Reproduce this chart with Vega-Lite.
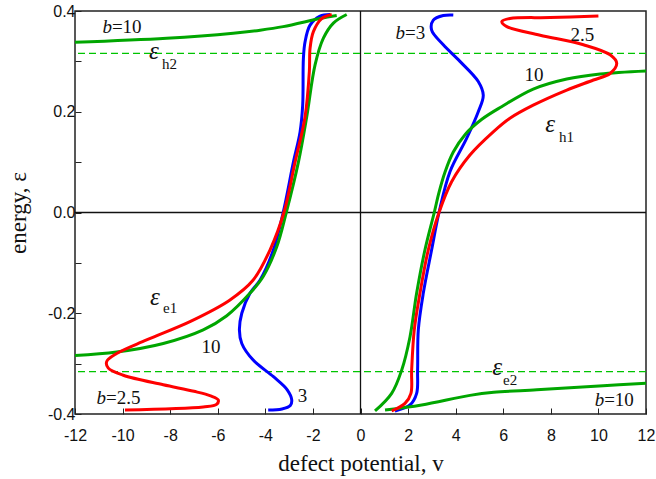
{
  "$schema": "https://vega.github.io/schema/vega-lite/v6.json",
  "width": 571,
  "height": 403,
  "autosize": {"type": "none"},
  "padding": {"left": 75, "top": 11, "right": 10, "bottom": 65},
  "background": "white",
  "config": {
    "view": {"stroke": "#222", "strokeWidth": 1.5},
    "axis": {
      "domain": false, "grid": false, "tickColor": "#222", "tickWidth": 1, "labelFlush": false, "labelOverlap": false,
      "labelFont": "Liberation Sans", "labelFontSize": 16, "labelColor": "#111",
      "titleFont": "Liberation Serif", "titleFontSize": 23, "titleFontWeight": "normal", "titleColor": "#111"
    }
  },
  "datasets": {
    "curves": [
      {"b":"3","seg":"BL","i":1,"v":-3.88,"e":-0.392},{"b":"3","seg":"BL","i":2,"v":-3.30,"e":-0.390},{"b":"3","seg":"BL","i":3,"v":-2.95,"e":-0.383},{"b":"3","seg":"BL","i":4,"v":-2.89,"e":-0.372},{"b":"3","seg":"BL","i":5,"v":-3.08,"e":-0.352},{"b":"3","seg":"BL","i":6,"v":-3.66,"e":-0.326},{"b":"3","seg":"BL","i":7,"v":-4.51,"e":-0.293},{"b":"3","seg":"BL","i":8,"v":-4.99,"e":-0.26},{"b":"3","seg":"BL","i":9,"v":-5.09,"e":-0.233},{"b":"3","seg":"BL","i":10,"v":-4.99,"e":-0.2},{"b":"3","seg":"BL","i":11,"v":-4.64,"e":-0.16},{"b":"3","seg":"BL","i":12,"v":-4.22,"e":-0.134},{"b":"3","seg":"BL","i":13,"v":-3.66,"e":-0.074},{"b":"3","seg":"BL","i":14,"v":-3.25,"e":0.0},{"b":"3","seg":"BL","i":15,"v":-2.82,"e":0.10},{"b":"3","seg":"BL","i":16,"v":-2.54,"e":0.16},{"b":"3","seg":"BL","i":17,"v":-2.43,"e":0.213},{"b":"3","seg":"BL","i":18,"v":-2.40,"e":0.306},{"b":"3","seg":"BL","i":19,"v":-2.33,"e":0.339},{"b":"3","seg":"BL","i":20,"v":-2.12,"e":0.372},{"b":"3","seg":"BL","i":21,"v":-1.70,"e":0.39},{"b":"3","seg":"BL","i":22,"v":-1.28,"e":0.393},
      {"b":"3","seg":"BR","i":1,"v":1.45,"e":-0.394},{"b":"3","seg":"BR","i":2,"v":2.08,"e":-0.382},{"b":"3","seg":"BR","i":3,"v":2.36,"e":-0.359},{"b":"3","seg":"BR","i":4,"v":2.40,"e":-0.313},{"b":"3","seg":"BR","i":5,"v":2.43,"e":-0.233},{"b":"3","seg":"BR","i":6,"v":2.64,"e":-0.16},{"b":"3","seg":"BR","i":7,"v":2.99,"e":-0.074},{"b":"3","seg":"BR","i":8,"v":3.3,"e":0.0},{"b":"3","seg":"BR","i":9,"v":3.76,"e":0.081},{"b":"3","seg":"BR","i":10,"v":4.46,"e":0.147},{"b":"3","seg":"BR","i":11,"v":4.95,"e":0.2},{"b":"3","seg":"BR","i":12,"v":5.16,"e":0.233},{"b":"3","seg":"BR","i":13,"v":4.95,"e":0.26},{"b":"3","seg":"BR","i":14,"v":4.18,"e":0.3},{"b":"3","seg":"BR","i":15,"v":3.48,"e":0.333},{"b":"3","seg":"BR","i":16,"v":2.99,"e":0.362},{"b":"3","seg":"BR","i":17,"v":3.06,"e":0.382},{"b":"3","seg":"BR","i":18,"v":3.48,"e":0.391},{"b":"3","seg":"BR","i":19,"v":3.9,"e":0.392},
      {"b":"10","seg":"GL","i":1,"v":-12,"e":-0.284},{"b":"10","seg":"GL","i":2,"v":-10.25,"e":-0.277},{"b":"10","seg":"GL","i":3,"v":-8.29,"e":-0.26},{"b":"10","seg":"GL","i":4,"v":-6.61,"e":-0.233},{"b":"10","seg":"GL","i":5,"v":-5.62,"e":-0.205},{"b":"10","seg":"GL","i":6,"v":-4.64,"e":-0.16},{"b":"10","seg":"GL","i":7,"v":-4.09,"e":-0.127},{"b":"10","seg":"GL","i":8,"v":-3.52,"e":-0.068},{"b":"10","seg":"GL","i":9,"v":-3.12,"e":0.0},{"b":"10","seg":"GL","i":10,"v":-2.61,"e":0.10},{"b":"10","seg":"GL","i":11,"v":-2.26,"e":0.19},{"b":"10","seg":"GL","i":12,"v":-1.91,"e":0.293},{"b":"10","seg":"GL","i":13,"v":-1.56,"e":0.346},{"b":"10","seg":"GL","i":14,"v":-1.14,"e":0.376},{"b":"10","seg":"GL","i":15,"v":-0.58,"e":0.393},
      {"b":"10","seg":"GT","i":1,"v":-12,"e":0.338},{"b":"10","seg":"GT","i":2,"v":-8.15,"e":0.346},{"b":"10","seg":"GT","i":3,"v":-5.35,"e":0.356},{"b":"10","seg":"GT","i":4,"v":-4.22,"e":0.362},{"b":"10","seg":"GT","i":5,"v":-3.25,"e":0.369},{"b":"10","seg":"GT","i":6,"v":-1.70,"e":0.385},{"b":"10","seg":"GT","i":7,"v":-1.0,"e":0.391},
      {"b":"10","seg":"GR","i":1,"v":0.61,"e":-0.394},{"b":"10","seg":"GR","i":2,"v":1.31,"e":-0.359},{"b":"10","seg":"GR","i":3,"v":1.73,"e":-0.313},{"b":"10","seg":"GR","i":4,"v":2.08,"e":-0.247},{"b":"10","seg":"GR","i":5,"v":2.36,"e":-0.16},{"b":"10","seg":"GR","i":6,"v":2.71,"e":-0.074},{"b":"10","seg":"GR","i":7,"v":3.1,"e":0.0},{"b":"10","seg":"GR","i":8,"v":3.3,"e":0.04},{"b":"10","seg":"GR","i":9,"v":3.55,"e":0.08},{"b":"10","seg":"GR","i":10,"v":3.9,"e":0.12},{"b":"10","seg":"GR","i":11,"v":4.4,"e":0.155},{"b":"10","seg":"GR","i":12,"v":5.1,"e":0.185},{"b":"10","seg":"GR","i":13,"v":5.93,"e":0.21},{"b":"10","seg":"GR","i":14,"v":7.26,"e":0.245},{"b":"10","seg":"GR","i":15,"v":8.67,"e":0.265},{"b":"10","seg":"GR","i":16,"v":10.07,"e":0.275},{"b":"10","seg":"GR","i":17,"v":12,"e":0.281},
      {"b":"10","seg":"GB","i":1,"v":1.03,"e":-0.392},{"b":"10","seg":"GB","i":2,"v":2.57,"e":-0.382},{"b":"10","seg":"GB","i":3,"v":4.6,"e":-0.363},{"b":"10","seg":"GB","i":4,"v":5.6,"e":-0.357},{"b":"10","seg":"GB","i":5,"v":7.41,"e":-0.352},{"b":"10","seg":"GB","i":6,"v":10.2,"e":-0.344},{"b":"10","seg":"GB","i":7,"v":12,"e":-0.339},
      {"b":"2.5","seg":"RL","i":1,"v":-9.9,"e":-0.392},{"b":"2.5","seg":"RL","i":2,"v":-6.61,"e":-0.386},{"b":"2.5","seg":"RL","i":3,"v":-6.05,"e":-0.381},{"b":"2.5","seg":"RL","i":4,"v":-5.98,"e":-0.372},{"b":"2.5","seg":"RL","i":5,"v":-6.3,"e":-0.364},{"b":"2.5","seg":"RL","i":6,"v":-7.0,"e":-0.355},{"b":"2.5","seg":"RL","i":7,"v":-8.29,"e":-0.342},{"b":"2.5","seg":"RL","i":8,"v":-9.97,"e":-0.323},{"b":"2.5","seg":"RL","i":9,"v":-10.6,"e":-0.309},{"b":"2.5","seg":"RL","i":10,"v":-10.67,"e":-0.296},{"b":"2.5","seg":"RL","i":11,"v":-10.25,"e":-0.28},{"b":"2.5","seg":"RL","i":12,"v":-8.99,"e":-0.253},{"b":"2.5","seg":"RL","i":13,"v":-7.1,"e":-0.215},{"b":"2.5","seg":"RL","i":14,"v":-5.5,"e":-0.174},{"b":"2.5","seg":"RL","i":15,"v":-4.51,"e":-0.134},{"b":"2.5","seg":"RL","i":16,"v":-3.80,"e":-0.074},{"b":"2.5","seg":"RL","i":17,"v":-3.22,"e":0.0},{"b":"2.5","seg":"RL","i":18,"v":-2.75,"e":0.10},{"b":"2.5","seg":"RL","i":19,"v":-2.33,"e":0.19},{"b":"2.5","seg":"RL","i":20,"v":-2.15,"e":0.28},{"b":"2.5","seg":"RL","i":21,"v":-2.12,"e":0.326},{"b":"2.5","seg":"RL","i":22,"v":-1.98,"e":0.359},{"b":"2.5","seg":"RL","i":23,"v":-1.63,"e":0.385},{"b":"2.5","seg":"RL","i":24,"v":-1.21,"e":0.393},
      {"b":"2.5","seg":"RR","i":1,"v":1.31,"e":-0.394},{"b":"2.5","seg":"RR","i":2,"v":1.87,"e":-0.379},{"b":"2.5","seg":"RR","i":3,"v":2.12,"e":-0.359},{"b":"2.5","seg":"RR","i":4,"v":2.15,"e":-0.313},{"b":"2.5","seg":"RR","i":5,"v":2.26,"e":-0.233},{"b":"2.5","seg":"RR","i":6,"v":2.50,"e":-0.16},{"b":"2.5","seg":"RR","i":7,"v":2.85,"e":-0.074},{"b":"2.5","seg":"RR","i":8,"v":3.3,"e":0.0},{"b":"2.5","seg":"RR","i":9,"v":3.83,"e":0.061},{"b":"2.5","seg":"RR","i":10,"v":4.6,"e":0.114},{"b":"2.5","seg":"RR","i":11,"v":5.58,"e":0.16},{"b":"2.5","seg":"RR","i":12,"v":6.28,"e":0.187},{"b":"2.5","seg":"RR","i":13,"v":7.26,"e":0.213},{"b":"2.5","seg":"RR","i":14,"v":8.67,"e":0.243},{"b":"2.5","seg":"RR","i":15,"v":9.79,"e":0.263},{"b":"2.5","seg":"RR","i":16,"v":10.49,"e":0.276},{"b":"2.5","seg":"RR","i":17,"v":10.77,"e":0.296},{"b":"2.5","seg":"RR","i":18,"v":10.49,"e":0.313},{"b":"2.5","seg":"RR","i":19,"v":9.37,"e":0.333},{"b":"2.5","seg":"RR","i":20,"v":7.55,"e":0.352},{"b":"2.5","seg":"RR","i":21,"v":6.15,"e":0.369},{"b":"2.5","seg":"RR","i":22,"v":5.94,"e":0.379},{"b":"2.5","seg":"RR","i":23,"v":6.28,"e":0.385},{"b":"2.5","seg":"RR","i":24,"v":7.97,"e":0.387},{"b":"2.5","seg":"RR","i":25,"v":10.0,"e":0.39}
    ],
    "labels": [
      {"kind":"eps","t":"ε","v":-8.68,"e":0.304},
      {"kind":"eps","t":"ε","v":7.97,"e":0.160},
      {"kind":"eps","t":"ε","v":-8.64,"e":-0.1836},
      {"kind":"eps","t":"ε","v":5.74,"e":-0.3226},
      {"kind":"sub","t":"h2","v":-8.34,"e":0.284},
      {"kind":"sub","t":"h1","v":8.34,"e":0.1406},
      {"kind":"sub","t":"e1","v":-8.3,"e":-0.199},
      {"kind":"sub","t":"e2","v":5.99,"e":-0.342},
      {"kind":"bi","t":"b","v":-10.45,"e":0.3557},
      {"kind":"bi","t":"b","v":1.87,"e":0.344},
      {"kind":"bi","t":"b","v":-10.70,"e":-0.381},
      {"kind":"bi","t":"b","v":10.24,"e":-0.3835},
      {"kind":"eq","t":"=10","v":-10.45,"e":0.3557},
      {"kind":"eq","t":"=3","v":1.87,"e":0.344},
      {"kind":"eq","t":"=2.5","v":-10.70,"e":-0.381},
      {"kind":"eq","t":"=10","v":10.24,"e":-0.3835},
      {"kind":"num","t":"2.5","v":9.33,"e":0.341},
      {"kind":"num","t":"10","v":7.29,"e":0.261},
      {"kind":"num","t":"10","v":-6.28,"e":-0.278},
      {"kind":"num","t":"3","v":-2.44,"e":-0.3756}
    ],
    "hlines": [{"e":0.316},{"e":-0.316}],
    "zero": [{"z":0}]
  },
  "layer": [
    {
      "data": {"name": "zero"},
      "mark": {"type": "rule", "color": "#111", "strokeWidth": 1.3},
      "encoding": {
        "x": {"field": "z", "type": "quantitative", "scale": {"domain": [-12, 12], "nice": false, "zero": false},
          "axis": {"values": [-12,-10,-8,-6,-4,-2,0,2,4,6,8,10,12], "tickSize": -6, "labelPadding": 19,
            "labelExpr": "replace(format(datum.value, 'd'), '−', '-')",
            "title": "defect potential, v", "titleY": 56, "titleBaseline": "alphabetic"}}
      }
    },
    {
      "data": {"name": "zero"},
      "mark": {"type": "rule", "color": "#111", "strokeWidth": 1.3},
      "encoding": {
        "y": {"field": "z", "type": "quantitative", "scale": {"domain": [-0.4, 0.4], "nice": false, "zero": false},
          "axis": {"values": [-0.4,-0.3,-0.2,-0.1,0,0.1,0.2,0.3,0.4], "tickSize": -6, "labelPadding": 6,
            "labelExpr": "round(datum.value*10) % 2 != 0 ? '' : replace(format(datum.value, '.1f'), '−', '-')",
            "title": "energy, ε", "titleX": -50, "titleY": 201.5, "titleAngle": -90, "titleAlign": "center", "titleBaseline": "alphabetic"}}
      }
    },
    {
      "data": {"name": "hlines"},
      "mark": {"type": "rule", "color": "#00c400", "strokeWidth": 1.2, "strokeDash": [7, 4]},
      "encoding": {"y": {"field": "e", "type": "quantitative"}}
    },
    {
      "data": {"name": "curves"},
      "mark": {"type": "line", "strokeWidth": 3, "interpolate": "catmull-rom", "clip": true},
      "encoding": {
        "x": {"field": "v", "type": "quantitative"},
        "y": {"field": "e", "type": "quantitative"},
        "color": {"field": "b", "type": "nominal", "scale": {"domain": ["3", "10", "2.5"], "range": ["#0000ff", "#00a600", "#ff0000"]}, "legend": null},
        "detail": {"field": "seg"},
        "order": {"field": "i", "type": "quantitative"}
      }
    },
    {
      "data": {"name": "labels"},
      "transform": [{"filter": "datum.kind == 'eps'"}],
      "mark": {"type": "text", "font": "Liberation Serif", "fontStyle": "italic", "fontSize": 25, "align": "center", "baseline": "alphabetic", "color": "#111"},
      "encoding": {"x": {"field": "v", "type": "quantitative"}, "y": {"field": "e", "type": "quantitative"}, "text": {"field": "t"}}
    },
    {
      "data": {"name": "labels"},
      "transform": [{"filter": "datum.kind == 'sub'"}],
      "mark": {"type": "text", "font": "Liberation Serif", "fontSize": 15, "align": "left", "baseline": "alphabetic", "color": "#111"},
      "encoding": {"x": {"field": "v", "type": "quantitative"}, "y": {"field": "e", "type": "quantitative"}, "text": {"field": "t"}}
    },
    {
      "data": {"name": "labels"},
      "transform": [{"filter": "datum.kind == 'bi'"}],
      "mark": {"type": "text", "font": "Liberation Serif", "fontStyle": "italic", "fontSize": 19, "align": "right", "baseline": "alphabetic", "color": "#111"},
      "encoding": {"x": {"field": "v", "type": "quantitative"}, "y": {"field": "e", "type": "quantitative"}, "text": {"field": "t"}}
    },
    {
      "data": {"name": "labels"},
      "transform": [{"filter": "datum.kind == 'eq'"}],
      "mark": {"type": "text", "font": "Liberation Serif", "fontSize": 19, "align": "left", "baseline": "alphabetic", "color": "#111"},
      "encoding": {"x": {"field": "v", "type": "quantitative"}, "y": {"field": "e", "type": "quantitative"}, "text": {"field": "t"}}
    },
    {
      "data": {"name": "labels"},
      "transform": [{"filter": "datum.kind == 'num'"}],
      "mark": {"type": "text", "font": "Liberation Serif", "fontSize": 19, "align": "center", "baseline": "alphabetic", "color": "#111"},
      "encoding": {"x": {"field": "v", "type": "quantitative"}, "y": {"field": "e", "type": "quantitative"}, "text": {"field": "t"}}
    }
  ]
}
